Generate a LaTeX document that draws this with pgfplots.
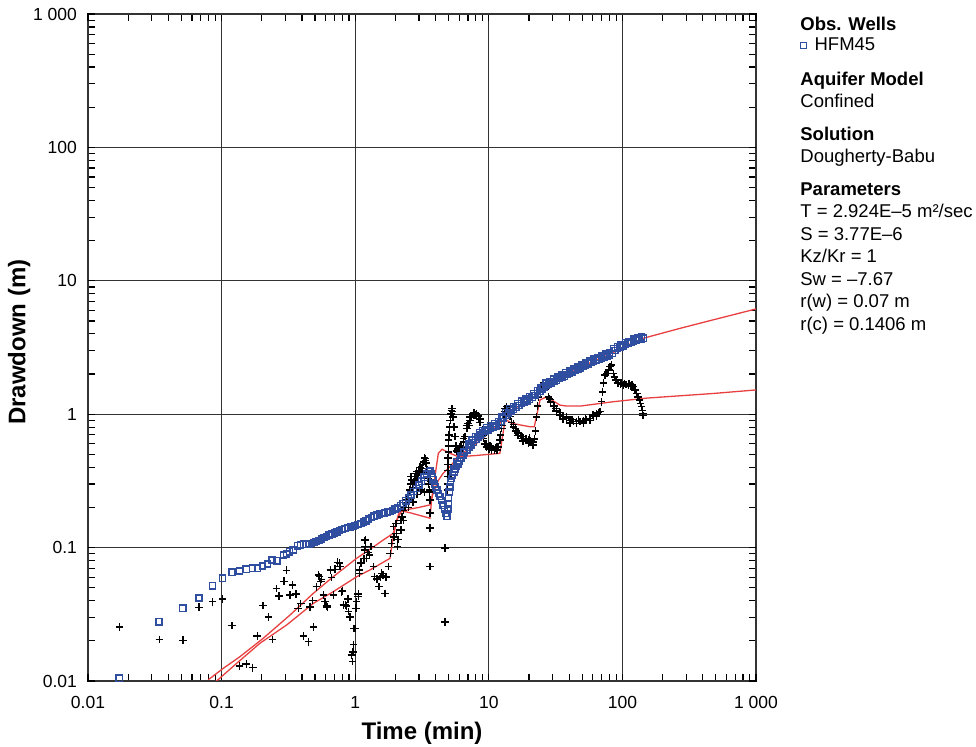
\documentclass[border=0pt]{standalone}
\usepackage{fontspec}
\setmainfont{Liberation Sans}
\usepackage{pgfplots}
\pgfplotsset{compat=1.18}
\definecolor{obsblue}{RGB}{48,78,160}
\definecolor{fitred}{RGB}{232,64,64}
\pgfplotsset{onemark legend/.style={legend image code/.code={\draw[##1] plot coordinates {(0cm,0cm)};}}}
\begin{document}
\begin{tikzpicture}
\begin{axis}[name=ax, scale only axis, width=334pt, height=333.5pt,
  xmode=log, ymode=log, xmin=0.01, xmax=1000, ymin=0.01, ymax=1000,
  log basis x=10, log basis y=10,
  xtick={0.01,0.02,0.03,0.04,0.05,0.06,0.07,0.08,0.09,0.1,0.2,0.3,0.4,0.5,0.6,0.7,0.8,0.9,1,2,3,4,5,6,7,8,9,10,20,30,40,50,60,70,80,90,100,200,300,400,500,600,700,800,900,1000},
  xticklabels={0.01,,,,,,,,,0.1,,,,,,,,,1,,,,,,,,,10,,,,,,,,,100,,,,,,,,,1 000},
  ytick={0.01,0.02,0.03,0.04,0.05,0.06,0.07,0.08,0.09,0.1,0.2,0.3,0.4,0.5,0.6,0.7,0.8,0.9,1,2,3,4,5,6,7,8,9,10,20,30,40,50,60,70,80,90,100,200,300,400,500,600,700,800,900,1000},
  yticklabels={0.01,,,,,,,,,0.1,,,,,,,,,1,,,,,,,,,10,,,,,,,,,100,,,,,,,,,1 000},
  extra x ticks={0.01,0.1,1,10,100,1000}, extra x tick labels={},
  extra y ticks={0.01,0.1,1,10,100,1000}, extra y tick labels={},
  extra x tick style={grid=major, major grid style={black!80, line width=0.6pt}},
  extra y tick style={grid=major, major grid style={black!80, line width=0.6pt}},
  grid=none,
  /pgf/number format/assume math mode=true,
  tick align=inside, major tick length=3.5pt,
  tick style={draw=black, line width=0.6pt},
  axis line style={line width=0.75pt},
  ticklabel style={font=\fontsize{8.75}{10}\selectfont},
  xticklabel style={yshift=-4pt},
  yticklabel style={xshift=-2pt},
  xlabel={Time (min)}, ylabel={Drawdown (m)},
  label style={font=\fontsize{12}{14}\selectfont\bfseries},
  xlabel style={at={(axis description cs:0.5,-0.078)}, anchor=center},
  ylabel style={at={(axis description cs:-0.103,0.508)}, anchor=center},
  legend style={at={(axis description cs:1,1)}, anchor=west, xshift=19pt, yshift=-15.75pt,
    draw=none, fill=none, font=\fontsize{9.25}{11}\selectfont,
    /tikz/every odd column/.append style={column sep=2pt}},
  legend cell align=left,
]
% derivative data (black crosses)
\addplot[only marks, mark=+, mark size=1.9pt, mark options={line width=0.75pt}, black, forget plot] coordinates {
(0.0172,0.0255)(0.0342,0.0205)(0.0514,0.0202)(0.068,0.0357)(0.0857,0.0393)(0.1019,0.041)
(0.120,0.026)(0.136,0.01295)(0.153,0.0134)(0.171,0.01257)(0.185,0.0217)(0.204,0.0367)
(0.225,0.0303)(0.240,0.0205)(0.258,0.0492)(0.270,0.0434)(0.293,0.0559)(0.307,0.0676)
(0.325,0.0441)(0.340,0.0524)(0.360,0.0447)(0.375,0.0351)(0.391,0.0382)(0.409,0.0217)
(0.446,0.0197)(0.459,0.036)(0.481,0.040)(0.486,0.0255)(0.515,0.0509)(0.530,0.0623)
(0.539,0.0605)(0.552,0.0555)(0.561,0.0578)(0.578,0.0441)(0.594,0.0393)(0.612,0.0365)
(0.618,0.0357)(0.656,0.068)(0.667,0.0598)(0.687,0.0441)(0.707,0.0688)(0.735,0.0776)
(0.761,0.0766)(0.77,0.072)(0.793,0.0467)(0.806,0.0473)(0.815,0.0372)(0.845,0.0372)
(0.863,0.0365)(0.88,0.041)(0.888,0.0331)(0.915,0.0303)(0.942,0.0157)(0.957,0.01396)
(0.96,0.0165)(0.968,0.0248)(0.968,0.0188)(0.996,0.0248)(1.01,0.0351)(1.026,0.0393)
(1.055,0.0429)(1.055,0.0449)(1.08,0.0642)(1.11,0.0766)(1.08,0.068)(1.16,0.083)
(1.17,0.096)(1.17,0.1127)(1.19,0.1016)(1.19,0.114)(1.21,0.083)(1.25,0.092)(1.28,0.088)
(1.31,0.1016)(1.37,0.072)(1.40,0.0605)(1.45,0.058)(1.51,0.051)(1.55,0.06)(1.58,0.0642)
(1.62,0.062)(1.67,0.0454)(1.70,0.06)(1.77,0.072)(1.83,0.0906)(1.87,0.1077)(1.93,0.1435)
(1.95,0.12)(2.02,0.152)(2.03,0.128)(2.08,0.1016)(2.1,0.115)(2.2,0.135)(2.25,0.17)
(2.2,0.16)(2.3,0.19)(2.35,0.2)(2.4,0.215)(2.45,0.23)(2.5,0.25)(2.55,0.27)(2.6,0.3)
(2.62,0.34)(2.65,0.32)(2.7,0.28)(2.75,0.31)(2.8,0.34)(2.85,0.36)(2.88,0.371)(2.9,0.33)
(2.95,0.35)(3.0,0.38)(3.05,0.4)(3.1,0.37)(3.15,0.39)(3.2,0.42)(3.25,0.44)(3.3,0.47)
(3.34,0.467)(3.35,0.45)(3.4,0.43)(3.45,0.38)(3.5,0.33)(3.55,0.3)(3.6,0.27)
(2.3,0.16)(2.5,0.2)(2.7,0.22)(2.9,0.25)(3.1,0.27)(3.3,0.26)
(3.61,0.262)(3.63,0.228)(3.63,0.181)(3.63,0.14)(3.63,0.072)(4.7,0.099)(4.7,0.0277)
(4.9,0.27)(4.92,0.3)(4.94,0.34)(4.95,0.38)(4.96,0.42)(4.97,0.47)(4.98,0.52)(4.99,0.58)(5.0,0.64)
(5.05,0.7)(5.1,0.8)(5.15,0.9)(5.2,1.0)(5.25,1.07)(5.3,1.1)(5.35,1.05)(5.4,0.95)(5.5,0.8)
(5.6,0.68)(5.7,0.58)(5.8,0.53)(5.9,0.52)(6.0,0.52)(6.1,0.54)(6.26,0.57)(6.45,0.62)
(6.64,0.68)(6.84,0.78)(7.0,0.85)(7.23,0.9)(7.45,0.96)(7.66,0.99)(7.9,0.99)(8.11,0.96)
(8.35,0.93)(8.6,0.87)(8.85,0.74)(9.1,0.66)(9.37,0.6)(9.64,0.57)(10.0,0.55)(10.5,0.54)
(11.0,0.535)(11.5,0.54)(11.8,0.57)(12.1,0.64)(12.5,0.78)(12.85,0.9)(13.2,1.05)(13.6,1.14)
(14.0,1.05)(14.4,0.96)(14.8,0.87)(15.3,0.8)(16.0,0.75)(16.6,0.72)(17.3,0.69)(18.1,0.66)
(19.0,0.65)(19.8,0.64)(20.6,0.63)(21.5,0.62)(22.0,0.65)(22.4,0.75)(22.8,0.95)(23.2,1.15)
(23.5,1.35)(24.0,1.5)(24.6,1.62)(25.6,1.71)(26.5,1.55)(27.9,1.35)(29,1.23)(30.4,1.14)
(32,1.06)(34.1,0.99)(36,0.96)(38.3,0.93)(40.5,0.9)(43,0.88)(45.5,0.88)(48.2,0.88)
(51,0.89)(54,0.905)(57,0.93)(60.6,0.957)(64,1.0)(68,1.045)(70,1.24)(71.1,1.47)(72,1.71)
(74.1,1.97)(77,2.02)(79,2.15)(80.7,2.27)(83.1,2.34)(85.5,2.02)(87.5,1.9)(89.5,1.8)
(93.1,1.71)(97,1.68)(101.6,1.66)(106,1.67)(110.7,1.66)(115,1.63)(120.7,1.61)(124,1.52)
(128,1.43)(131,1.35)(134,1.28)(137,1.2)(139.4,1.14)(141,1.07)(142,1.016)(143,0.98)
(5.9,0.55)(6.1,0.57)(6.45,0.66)(6.84,0.82)(7.23,0.95)(7.66,1.03)(8.11,1.0)(8.6,0.92)
(9.1,0.7)(9.64,0.6)(10.5,0.57)(11.5,0.57)(12.5,0.82)(13.2,1.1)(14.4,1.0)(15.3,0.84)
(16.6,0.69)(18.1,0.63)(19.8,0.61)(21.5,0.59)(26.5,1.62)(29,1.29)(32,1.1)(36,0.92)
(40.5,0.86)(45.5,0.85)(51,0.86)(57,0.9)(64,0.97)
(6.3,0.55)(7.1,0.82)(7.8,1.02)(8.4,0.97)(9.0,0.76)(10.2,0.58)(11.2,0.56)(12.2,0.7)
(13.0,0.98)(14.2,1.08)(15.8,0.78)(17.8,0.68)(20.2,0.66)(24.3,1.55)(25.2,1.66)(28.5,1.3)
(31,1.15)(34,1.03)(38,0.95)(42,0.91)(47,0.9)(53,0.92)(60,0.99)(66,1.03)
(98,1.72)(104,1.7)(112,1.7)(118,1.66)
};
% drawdown data (blue squares)
\addplot[only marks, mark=square, mark size=1.55pt, mark options={line width=0.7pt}, obsblue,
  onemark legend] coordinates {
(0.0171,0.0105)(0.034,0.0278)(0.0512,0.0351)(0.0678,0.0419)(0.0857,0.0518)(0.1019,0.0589)
(0.1197,0.0653)(0.1358,0.0667)(0.153,0.0688)(0.170,0.0700)(0.186,0.0700)(0.203,0.0728)
(0.221,0.0754)(0.238,0.0808)(0.260,0.0795)(0.290,0.0880)(0.307,0.0895)(0.323,0.0930)
(0.344,0.0960)(0.37,0.103)(0.39,0.105)(0.41,0.106)(0.43,0.106)(0.45,0.1065)(0.47,0.107)
(0.49,0.109)(0.51,0.111)(0.535,0.113)(0.56,0.116)(0.585,0.119)(0.61,0.121)(0.64,0.124)
(0.67,0.127)(0.70,0.129)(0.73,0.131)(0.765,0.134)(0.80,0.137)(0.84,0.139)(0.88,0.141)
(0.92,0.143)(0.96,0.144)(1.0,0.146)(1.05,0.149)(1.10,0.152)(1.15,0.155)(1.2,0.159)
(1.26,0.164)(1.32,0.168)(1.38,0.172)(1.45,0.175)(1.52,0.178)(1.59,0.180)(1.66,0.182)
(1.74,0.184)(1.82,0.186)(1.9,0.190)(1.99,0.194)(2.08,0.199)(2.18,0.206)(2.28,0.214)
(2.39,0.224)(2.5,0.235)(2.62,0.248)(2.74,0.263)(2.87,0.278)(3.0,0.295)(3.14,0.315)
(3.29,0.337)(3.44,0.356)(3.56,0.372)(3.65,0.375)(3.72,0.36)(3.78,0.34)(3.84,0.322)
(3.92,0.30)(4.0,0.285)(4.1,0.27)(4.2,0.255)(4.31,0.241)(4.42,0.225)(4.55,0.208)
(4.67,0.193)(4.78,0.18)(4.86,0.172)(4.92,0.18)(4.95,0.195)(4.97,0.212)(5.0,0.235)
(5.05,0.26)(5.1,0.285)(5.17,0.31)(5.25,0.33)(5.35,0.35)(5.5,0.37)(5.63,0.39)(5.75,0.405)
(5.9,0.425)(6.05,0.445)(6.2,0.465)(6.4,0.49)(6.6,0.515)(6.84,0.54)(7.1,0.565)(7.35,0.59)
(7.66,0.615)(8.0,0.645)(8.3,0.67)(8.6,0.695)(9.0,0.72)(9.4,0.745)(9.85,0.765)(10.3,0.785)
(10.8,0.80)(11.3,0.815)(11.8,0.84)(12.3,0.88)(12.85,0.93)(13.4,0.98)(14.0,1.02)(14.6,1.06)
(15.3,1.09)(16.0,1.12)(16.8,1.16)(17.6,1.2)(18.4,1.23)(19.3,1.26)(20.2,1.29)(21.1,1.33)
(22.1,1.38)(23.1,1.43)(24.2,1.48)(25.0,1.55)(25.8,1.60)(26.8,1.64)(28.0,1.68)(29.3,1.72)
(30.7,1.76)(32.1,1.80)(33.6,1.85)(35.2,1.89)(36.8,1.93)(38.5,1.98)(40.3,2.02)(42.2,2.07)
(44.2,2.12)(46.3,2.17)(48.4,2.22)(50.7,2.28)(53.1,2.33)(55.6,2.39)(58.2,2.44)(60.9,2.49)
(63.8,2.54)(66.8,2.58)(69.9,2.63)(73.2,2.68)(76.6,2.73)(80.2,2.78)(84.0,2.86)(87.9,3.0)
(92.0,3.1)(96.3,3.18)(100.8,3.25)(105.5,3.32)(110.5,3.40)(115.7,3.47)(121.1,3.53)
(126.8,3.58)(132.7,3.63)(138.9,3.68)(143.6,3.71)
(5.5,0.39)(6.2,0.49)(7.1,0.595)(8.0,0.68)(9.0,0.755)(10.3,0.82)(11.8,0.88)(13.4,1.03)
(15.3,1.14)(17.6,1.25)(20.2,1.35)(23.1,1.5)(26.8,1.71)(30.7,1.83)(35.2,1.97)(40.3,2.1)
(46.3,2.26)(53.1,2.42)(60.9,2.58)(69.9,2.73)(80.2,2.9)(92.0,3.22)(105.5,3.45)(121.1,3.66)
(138.9,3.8)
(5.8,0.44)(6.5,0.52)(7.5,0.64)(8.5,0.73)(9.6,0.79)(11,0.85)(12.6,0.95)(14.3,1.1)
(16.4,1.2)(18.8,1.3)(21.6,1.42)(24.6,1.58)(28.6,1.76)(33,1.9)(37.6,2.04)(43,2.18)
(49.5,2.34)(57,2.5)(65,2.66)(75,2.83)(86,3.1)(98,3.3)(112,3.5)(130,3.72)
};
\addlegendentry{HFM45}
% fitted drawdown (red)
\addplot[fitred, line width=0.65pt, forget plot] coordinates {
(0.0794,0.0102)(0.103,0.01245)(0.137,0.0152)(0.205,0.0209)(0.325,0.0312)(0.486,0.0454)
(0.685,0.0605)(1.026,0.0832)(1.29,0.097)(1.6,0.113)(1.93,0.128)(2.05,0.16)(2.2,0.185)
(2.6,0.195)(3.0,0.2)(3.63,0.209)(3.85,0.26)(4.2,0.32)(4.55,0.36)(5.13,0.405)(5.91,0.48)
(7.0,0.55)(8.1,0.605)(10,0.72)(12.1,0.855)(13.6,0.95)(15.3,1.05)(18.1,1.2)(20.3,1.28)
(22.5,1.38)(24.2,1.47)(25.6,1.62)(28.7,1.68)(36,1.92)(48.2,2.23)(57,2.42)(85.5,2.9)
(96,3.12)(143.6,3.71)(270,4.4)(479,5.1)(1000,6.15)
};
% fitted derivative (red)
\addplot[fitred, line width=0.65pt, forget plot] coordinates {
(0.0918,0.0100)(0.13,0.0136)(0.194,0.0192)(0.307,0.0263)(0.486,0.0382)(0.685,0.0467)
(1.026,0.0605)(1.29,0.068)(1.82,0.083)(1.93,0.121)(2.05,0.161)(2.15,0.19)(2.6,0.182)
(3.63,0.166)(3.73,0.228)(4.19,0.509)(4.47,0.546)(5.13,0.509)(5.91,0.48)(8,0.49)
(12.1,0.509)(13.2,0.879)(13.6,0.905)(14.8,0.855)(20.3,0.805)(21.9,0.805)(24.2,1.28)
(27.1,1.35)(34.1,1.17)(38.3,1.15)(48.2,1.15)(85.5,1.24)(152,1.32)(479,1.43)(1000,1.52)
};
\end{axis}
\begin{scope}[every node/.style={anchor=base west, inner sep=0pt, font=\fontsize{9.25}{11}\selectfont}]
\node[font=\fontsize{9.25}{11}\selectfont\bfseries] at ([xshift=22pt,yshift=-8.25pt]ax.north east) {Obs. Wells};
\node[font=\fontsize{9.25}{11}\selectfont\bfseries] at ([xshift=22pt,yshift=-36pt]ax.north east) {Aquifer Model};
\node at ([xshift=22pt,yshift=-46.75pt]ax.north east) {Confined};
\node[font=\fontsize{9.25}{11}\selectfont\bfseries] at ([xshift=22pt,yshift=-63.5pt]ax.north east) {Solution};
\node at ([xshift=22pt,yshift=-74.25pt]ax.north east) {Dougherty-Babu};
\node[font=\fontsize{9.25}{11}\selectfont\bfseries] at ([xshift=22pt,yshift=-91pt]ax.north east) {Parameters};
\node at ([xshift=22pt,yshift=-102pt]ax.north east) {T = 2.924E--5 m²/sec};
\node at ([xshift=22pt,yshift=-113.25pt]ax.north east) {S = 3.77E--6};
\node at ([xshift=22pt,yshift=-124.5pt]ax.north east) {Kz/Kr = 1};
\node at ([xshift=22pt,yshift=-135.75pt]ax.north east) {Sw = --7.67};
\node at ([xshift=22pt,yshift=-147pt]ax.north east) {r(w) = 0.07 m};
\node at ([xshift=22pt,yshift=-158.25pt]ax.north east) {r(c) = 0.1406 m};
\end{scope}
\pgfresetboundingbox
\path[use as bounding box] ([xshift=-44pt,yshift=-33pt]ax.south west) rectangle ([xshift=110pt,yshift=7pt]ax.north east);
\end{tikzpicture}
\end{document}
